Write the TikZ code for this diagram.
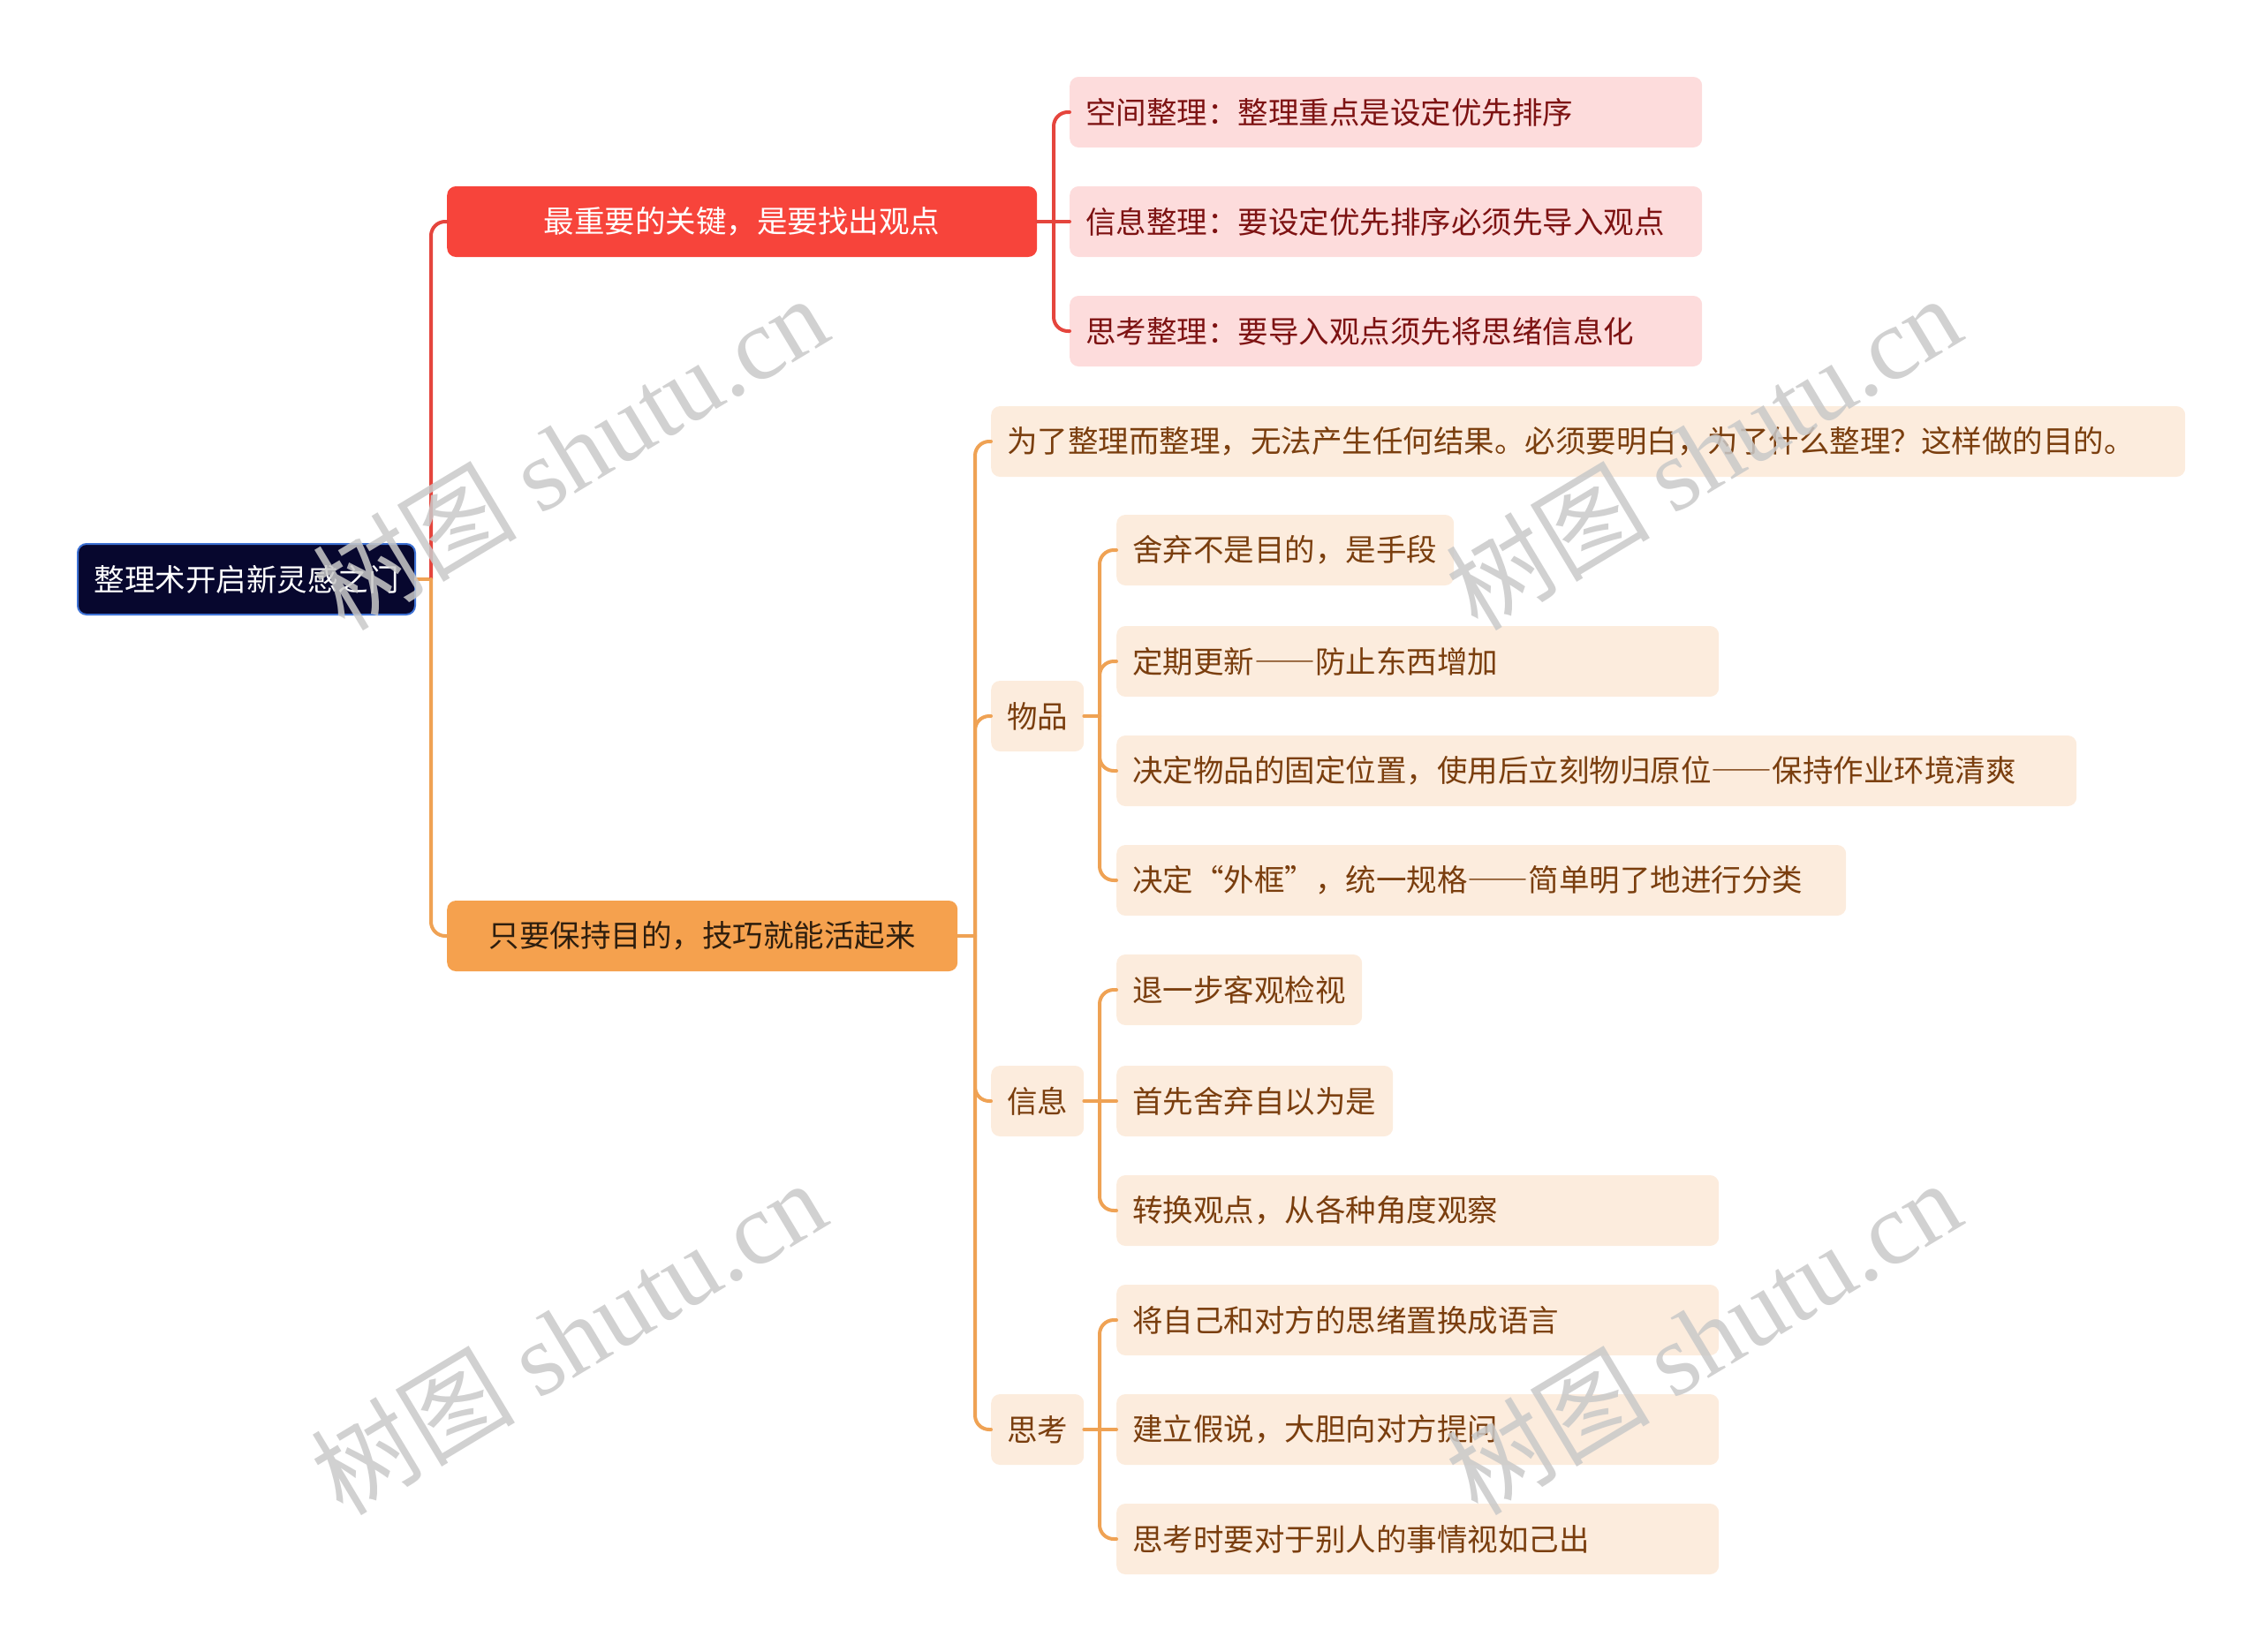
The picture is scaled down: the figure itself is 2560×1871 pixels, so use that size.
\documentclass[tikz,border=0pt]{standalone}
\usepackage{fontspec}
\setmainfont{Noto Sans CJK SC}
\newfontfamily\wmserif{Liberation Serif}
\newfontfamily\dashfont[RawFeature=+fwid]{Noto Sans CJK SC}
\newcommand{\cjkdash}{{\dashfont ——}}
\definecolor{rootfill}{rgb}{0.027,0.027,0.18}
\definecolor{rootedge}{rgb}{0.243,0.447,0.831}
\definecolor{redfill}{rgb}{0.969,0.267,0.231}
\definecolor{redln}{rgb}{0.898,0.271,0.239}
\definecolor{pinkfill}{rgb}{0.992,0.863,0.863}
\definecolor{pinktext}{rgb}{0.49,0.07,0.07}
\definecolor{orgfill}{rgb}{0.961,0.631,0.306}
\definecolor{orgln}{rgb}{0.937,0.635,0.329}
\definecolor{orgtext}{rgb}{0.18,0.118,0.055}
\definecolor{creamfill}{rgb}{0.988,0.925,0.867}
\definecolor{creamtext}{rgb}{0.478,0.243,0.055}
\definecolor{wmgray}{rgb}{0.79,0.79,0.79}

\begin{document}
\begin{tikzpicture}[line cap=round,line join=round,x=1pt,y=-1pt,
    box/.style={rounded corners=10pt,anchor=west,minimum height=80pt,inner xsep=18pt,inner ysep=0pt,font=\fontsize{34.5}{40}\selectfont},
    rootbox/.style={box,fill=rootfill,draw=rootedge,line width=2pt,text=white},
    redbox/.style={box,fill=redfill,text=white},
    orgbox/.style={box,fill=orgfill,text=orgtext},
    pinkbox/.style={box,fill=pinkfill,text=pinktext,align=left},
    creambox/.style={box,fill=creamfill,text=creamtext,align=left},
    redwire/.style={draw=redln,line width=4pt,rounded corners=16pt},
    orgwire/.style={draw=orgln,line width=4pt,rounded corners=16pt},
    wmark/.style={text=wmgray,text opacity=0.85,rotate=31,font=\fontsize{116}{120}\selectfont}]
  \useasboundingbox (0,0) rectangle (2560,1871);

  \node[rootbox,minimum width=382] (root) at (87,656) {整理术开启新灵感之门};
  \node[redbox,minimum width=668] (key) at (506,251) {最重要的关键，是要找出观点};
  \node[orgbox,minimum width=578] (goal) at (506,1060) {只要保持目的，技巧就能活起来};

  \node[pinkbox,text width=680] (space) at (1211,127) {空间整理：整理重点是设定优先排序};
  \node[pinkbox,text width=680] (infor) at (1211,251) {信息整理：要设定优先排序必须先导入观点};
  \node[pinkbox,text width=680] (thought) at (1211,375) {思考整理：要导入观点须先将思绪信息化};

  \node[creambox,text width=1316] (aim) at (1122,500) {为了整理而整理，无法产生任何结果。必须要明白，为了什么整理？这样做的目的。};
  \node[creambox,minimum width=104] (goods) at (1122,811) {物品};
  \node[creambox,minimum width=104] (news) at (1122,1247) {信息};
  \node[creambox,minimum width=104] (mind) at (1122,1619) {思考};

  \node[creambox,text width=346] (g1) at (1264,623) {舍弃不是目的，是手段};
  \node[creambox,text width=646] (g2) at (1264,749) {定期更新\cjkdash 防止东西增加};
  \node[creambox,text width=1051] (g3) at (1264,873) {决定物品的固定位置，使用后立刻物归原位\cjkdash 保持作业环境清爽};
  \node[creambox,text width=790] (g4) at (1264,997) {决定“外框”，统一规格\cjkdash 简单明了地进行分类};

  \node[creambox,text width=242] (n1) at (1264,1121) {退一步客观检视};
  \node[creambox,text width=277] (n2) at (1264,1247) {首先舍弃自以为是};
  \node[creambox,text width=646] (n3) at (1264,1371) {转换观点，从各种角度观察};

  \node[creambox,text width=646] (m1) at (1264,1495) {将自己和对方的思绪置换成语言};
  \node[creambox,text width=646] (m2) at (1264,1619) {建立假说，大胆向对方提问};
  \node[creambox,text width=646] (m3) at (1264,1743) {思考时要对于别人的事情视如己出};

  \coordinate (s0) at (488,656);
  \coordinate (s1) at (1193,251);
  \coordinate (s2) at (1104,1060);
  \coordinate (s3) at (1245,811);
  \coordinate (s4) at (1245,1247);
  \coordinate (s5) at (1245,1619);

  \draw[orgwire] (root.east) -- (s0);
  \draw[redwire] (s0) |- (key.west);
  \draw[orgwire] (s0) |- (goal.west);

  \draw[redwire] (key.east) -- (s1);
  \draw[redwire] (s1) |- (space.west);
  \draw[redwire] (s1) -- (infor.west);
  \draw[redwire] (s1) |- (thought.west);

  \draw[orgwire] (goal.east) -- (s2);
  \draw[orgwire] (s2) |- (aim.west);
  \draw[orgwire] (s2) |- (goods.west);
  \draw[orgwire] (s2) |- (news.west);
  \draw[orgwire] (s2) |- (mind.west);

  \draw[orgwire] (goods.east) -- (s3);
  \draw[orgwire] (s3) |- (g1.west);
  \draw[orgwire] (s3) |- (g2.west);
  \draw[orgwire] (s3) |- (g3.west);
  \draw[orgwire] (s3) |- (g4.west);

  \draw[orgwire] (news.east) -- (s4);
  \draw[orgwire] (s4) |- (n1.west);
  \draw[orgwire] (s4) -- (n2.west);
  \draw[orgwire] (s4) |- (n3.west);

  \draw[orgwire] (mind.east) -- (s5);
  \draw[orgwire] (s5) |- (m1.west);
  \draw[orgwire] (s5) -- (m2.west);
  \draw[orgwire] (s5) |- (m3.west);

  \node[wmark] (wm1) at (645,512) {树图 {\wmserif shutu.cn}};
  \node[wmark] (wm2) at (1928,512) {树图 {\wmserif shutu.cn}};
  \node[wmark] (wm3) at (643,1514) {树图 {\wmserif shutu.cn}};
  \node[wmark] (wm4) at (1928,1514) {树图 {\wmserif shutu.cn}};
\end{tikzpicture}
\end{document}
